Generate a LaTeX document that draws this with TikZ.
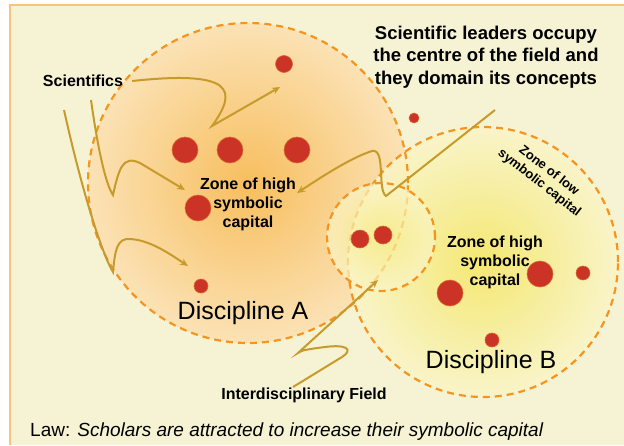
\documentclass[tikz,border=0pt]{standalone}
\usepackage{fontspec}
\setmainfont{Liberation Sans}
\usetikzlibrary{arrows.meta}

\definecolor{paper}{HTML}{F6F3D4}
\definecolor{frameline}{HTML}{F9C27E}
\definecolor{rim}{HTML}{F7941D}
\definecolor{capdot}{HTML}{CC3327}
\definecolor{capdotrim}{HTML}{D9672C}
\definecolor{trailcol}{HTML}{C79A2C}
\definecolor{orangein}{HTML}{F7BE5E}
\definecolor{orangeout}{HTML}{FBE2B5}
\definecolor{yellowin}{HTML}{F4E662}
\definecolor{yellowout}{HTML}{FAF5C8}

\tikzset{
  field/.style={rim,line width=2.2pt,dash pattern=on 7pt off 5pt},
  trail/.style={trailcol,line width=2pt,-{Stealth[length=8pt,width=7pt]}},
  tag/.style={font=\bfseries\fontsize{16}{19}\selectfont,align=center,inner sep=1pt},
  discname/.style={font=\fontsize{25}{28}\selectfont}
}

\begin{document}
\begin{tikzpicture}[x=1pt,y=-1pt]
        \useasboundingbox (0,0) rectangle (624,445);
        % Paper
        \fill[paper] (10,5) rectangle (624,445);
        \draw[frameline,line width=1.2pt] (10,445) -- (10,5) -- (624,5);
        % Fields
        \shade[inner color=orangein,outer color=orangeout] (248,183) circle[radius=160pt];
        \shade[inner color=yellowin,outer color=yellowout,fill opacity=0.85] (483,262) circle[radius=135pt];
        \draw[field] (248,183) circle[radius=160pt];
        \draw[field] (483,262) circle[radius=135pt];
        % Interdisciplinary field
        \shade[inner color=yellowin!80!white,outer color=yellowout,fill opacity=0.7] (381,237) circle[radius=54pt];
        \draw[field] (381,237) circle[radius=54pt];
        % Scholars
        \foreach \x/\y/\r in {284/64/8.5,185/150/13,230/150/13,297/150/13,198/208/13,
                              201/286/7,414/118/5,360/239/9,383/235/9,
                              450/293/13,540/274/13,583/273/7,492/340/7}
          \fill[capdot,draw=capdotrim,line width=0.6pt] (\x,\y) circle[radius=\r pt];
        % Labels
        \node[tag] (sci) at (83,81) {Scientifics};
        \node[tag,font=\bfseries\fontsize{18.5}{22.5}\selectfont] (leaders) at (486,57)
          {Scientific leaders occupy\\the centre of the field and\\they domain its concepts};
        \node[tag] (highA) at (248,204) {Zone of high\\symbolic\\capital};
        \node[tag] (highB) at (495,262) {Zone of high\\symbolic\\capital};
        \node[tag,font=\bfseries\fontsize{13}{15.5}\selectfont,rotate=-38] (low) at (544,177)
          {Zone of low\\symbolic capital};
        \node[discname] (discA) at (243,313) {Discipline A};
        \node[discname] (discB) at (491,362) {Discipline B};
        \node[tag] (inter) at (304,395) {Interdisciplinary Field};
        \node[anchor=west,font=\fontsize{19}{22}\selectfont,inner sep=0pt] (law) at (30,432)
          {Law: \textit{Scholars are attracted to increase their symbolic capital}};
        % Trails
        \coordinate (tipA) at (280,87);
        \coordinate (tipB) at (185,190);
        \coordinate (tipC) at (188,266);
        \coordinate (tipD) at (297,193);
        \coordinate (tipE) at (378,280);
        \coordinate (footB) at (91,100);
        \coordinate (footC) at (64,110);
        \coordinate (footD) at (495,110);
        \coordinate (footE) at (293,387);
        \draw[trail] ([xshift=8pt]sci.east) .. controls (234,70) and (238,90) .. (212,126) -- (tipA);
        \draw[trail] (footB) .. controls (98,150) and (106,185) .. (113,195)
          .. controls (119,168) and (123,155) .. (140,163) -- (tipB);
        \draw[trail] (footC) .. controls (84,200) and (104,258) .. (113,272)
          .. controls (115,250) and (117,238) .. (130,239) .. controls (150,240) and (170,254) .. (tipC);
        \draw[trail] (footD) -- (386,196) .. controls (377,190) and (386,148) .. (372,151)
          .. controls (350,158) and (320,178) .. (tipD);
        \draw[trail] (footE) -- (342,357) .. controls (353,350) and (348,344) .. (325,347)
          .. controls (310,349) and (301,350) .. (298,353) -- (tipE);
\end{tikzpicture}
\end{document}
